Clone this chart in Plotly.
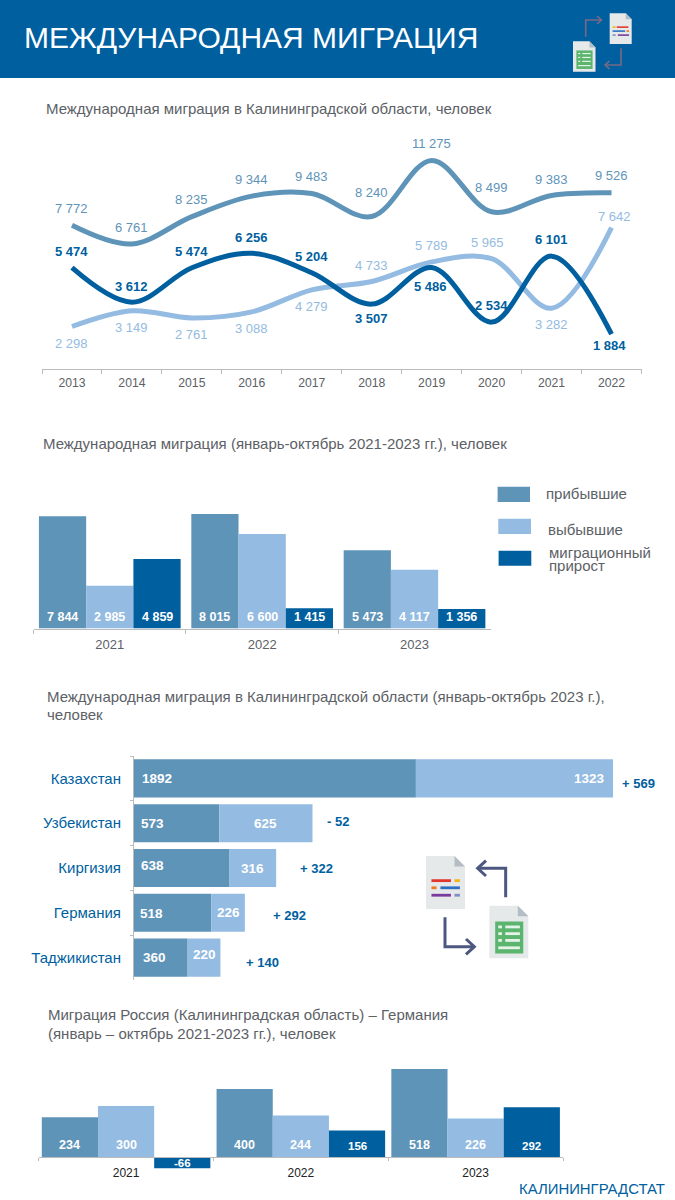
import plotly.graph_objects as go

W, H = 675, 1200
FONT = "Liberation Sans"
MED, LIGHT, DARK = "#5f94b9", "#94bbe1", "#005f9f"
GRAY, AXIS = "#5c6166", "#b9bbbd"

# ---------- data ----------
years = ["2013", "2014", "2015", "2016", "2017", "2018", "2019", "2020", "2021", "2022"]
arrived_all = [7772, 6761, 8235, 9344, 9483, 8240, 11275, 8499, 9383, 9526]
departed_all = [2298, 3149, 2761, 3088, 4279, 4733, 5789, 5965, 3282, 7642]
net_all = [5474, 3612, 5474, 6256, 5204, 3507, 5486, 2534, 6101, 1884]

periods = ["2021", "2022", "2023"]
arrived_jo = [7844, 8015, 5473]
departed_jo = [2985, 6600, 4117]
net_jo = [4859, 1415, 1356]

countries = ["Казахстан", "Узбекистан", "Киргизия", "Германия", "Таджикистан"]
arrived_c = [1892, 573, 638, 518, 360]
departed_c = [1323, 625, 316, 226, 220]
net_c = ["+ 569", "- 52", "+ 322", "+ 292", "+ 140"]

arrived_de = [234, 400, 518]
departed_de = [300, 244, 226]
net_de = [-66, 156, 292]


def fmt(v):
    return f"{v:,}".replace(",", " ")


def px(x):
    return x / W


def py(y):
    return 1 - y / H


fig = go.Figure()
shapes, ann = [], []


def text(x, y, s, size=15, color=GRAY, anchor="left", weight=400):
    ann.append(dict(xref="paper", yref="paper", x=px(x), y=py(y), text=s, showarrow=False,
                    xanchor=anchor, yanchor="middle", align=anchor,
                    font=dict(family=FONT, size=size, color=color, weight=weight)))


def rect(x0, y0, x1, y1, color):
    shapes.append(dict(type="rect", xref="paper", yref="paper", x0=px(x0), x1=px(x1),
                       y0=py(y0), y1=py(y1), fillcolor=color, line=dict(width=0), layer="above"))


def path(pts, fill=None, color=None, width=0, close=False):
    d = "M " + " L ".join(f"{px(a):.5f} {py(b):.5f}" for a, b in pts) + (" Z" if close else "")
    shapes.append(dict(type="path", xref="paper", yref="paper", path=d, layer="above",
                       fillcolor=fill if fill else "rgba(0,0,0,0)",
                       line=dict(color=color if color else "rgba(0,0,0,0)", width=width)))


def doc(x, y, w, h):
    f = w * 0.27
    path([(x, y), (x + w - f, y), (x + w, y + f), (x + w, y + h), (x, y + h)], fill="#e6e9ea", close=True)
    path([(x + w - f, y), (x + w, y + f), (x + w - f, y + f)], fill="#b4bcc4", close=True)


def bar_line(x0, x1, y, color, t):
    path([(x0, y), (x1, y)], color=color, width=t)


def text_doc(x, y, w, h, t, rows):
    doc(x, y, w, h)
    for row_y, items in rows:
        for a, b, c in items:
            bar_line(x + a * w, x + b * w, y + row_y * h, c, t)


def sheet_doc(x, y, w, h, t):
    doc(x, y, w, h)
    gx0, gx1, gy0, gy1 = x + .15 * w, x + .87 * w, y + .30 * h, y + .91 * h
    rect(gx0, gy0, gx1, gy1, "#5cb56f")
    gw, gh = gx1 - gx0, gy1 - gy0
    for f in (.17, .38, .59):
        bar_line(gx0 + .11 * gw, gx0 + .24 * gw, gy0 + f * gh, "#e6f3e8", t)
        bar_line(gx0 + .36 * gw, gx0 + .88 * gw, gy0 + f * gh, "#e6f3e8", t)
    bar_line(gx0 + .11 * gw, gx0 + .88 * gw, gy0 + .82 * gh, "#e6f3e8", t)


def arrow(pts, head, color, width):
    path(pts, color=color, width=width)
    path(head, color=color, width=width)


# ---------- header ----------
rect(0, 0, W, 78, DARK)
text(23.5, 38, "МЕЖДУНАРОДНАЯ МИГРАЦИЯ", size=30, color="#ffffff")
R, Y, O, B, P, S = "#e2372e", "#f0b41c", "#ee7a22", "#2f6fc0", "#7b3a9c", "#7f8fc4"
text_doc(609.7, 13.3, 22, 30.7, 1.6, [
    (.45, [(.13, .27, Y), (.32, .85, R)]),
    (.58, [(.13, .70, B), (.76, .88, O)]),
    (.71, [(.13, .27, S), (.37, .88, P)])])
sheet_doc(573, 41.3, 22.5, 30.4, 1.2)
HA = "#7a6a86"
arrow([(585.7, 36.7), (585.7, 20), (601, 20)], [(597, 16), (601.5, 20), (597, 24)], HA, 1.6)
arrow([(621, 48.3), (621, 65), (605.5, 65)], [(609.5, 61), (605, 65), (609.5, 69)], HA, 1.6)

# ---------- chart 1: lines ----------
Y1_TOP, Y1_BOT = 129, 369
for vals, col in [(arrived_all, MED), (departed_all, LIGHT), (net_all, DARK)]:
    fig.add_trace(go.Scatter(x=years, y=vals, mode="lines", xaxis="x", yaxis="y", hoverinfo="skip",
                             line=dict(color=col, width=5, shape="spline", smoothing=1.0)))

shift_arr = [16.5, 16.2, 16.7, 16.8, 16.9, 23.9, 17.1, 24.5, 16.4, 16.8]
shift_dep = [-16.8, -16.3, -16.4, -16.4, -16.2, 16.1, 16.2, 15.9, -16.7, 10.9]
shift_net = [16, 16, 16, 16, 16.4, -13.9, -18.5, 16.4, 16.4, -10.9]
xs_dep = [0, 0, 0, 0, 0, 0, 0, -4.6, 0, 3]
xs_net = [0, 0, 0, 0, 0, 0, -1.5, 0, 0, -2]
for vals, shifts, xsh, col, w in [
    (arrived_all, shift_arr, [0] * 10, MED, 400),
    (departed_all, shift_dep, xs_dep, LIGHT, 400),
    (net_all, shift_net, xs_net, DARK, 700),
]:
    for i, (v, s, xs) in enumerate(zip(vals, shifts, xsh)):
        ann.append(dict(xref="x", yref="y", x=i, y=v, text=fmt(v), showarrow=False, yshift=s, xshift=xs,
                        xanchor="center", yanchor="middle",
                        font=dict(family=FONT, size=13, color=col, weight=w)))
text(45.5, 109, "Международная миграция в Калининградской области, человек")


# ---------- grouped bars helper ----------
def bars(xa, ya, cats, series, step, shifts, sizes):
    width = step
    for j, (vals, col) in enumerate(series):
        off = (j - 1.5) * step
        fig.add_trace(go.Bar(x=cats, y=vals, xaxis=xa, yaxis=ya, width=width, offset=off,
                             marker=dict(color=col, line=dict(width=0)), hoverinfo="skip"))
        for i, v in enumerate(vals):
            ann.append(dict(xref=xa, yref=ya, x=i + (j - 1) * step, y=0, text=fmt(v), showarrow=False,
                            xanchor="center", yanchor="middle", yshift=shifts[j][i],
                            font=dict(family=FONT, size=sizes[j], color="#ffffff", weight=700)))


# ---------- chart 2: grouped bars ----------
SC2 = 0.0143
Y2_BOT, Y2_TOP = 628.5, 500
bars("x2", "y2", periods, [(arrived_jo, MED), (departed_jo, LIGHT), (net_jo, DARK)], 0.31,
     [[11.5] * 3, [11.5] * 3, [11.5] * 3], [12.5, 12.5, 12.5])
text(43, 443.5, "Международная миграция (январь-октябрь 2021-2023 гг.), человек")
rect(497.6, 486.7, 530, 502, MED)
rect(498.3, 518.7, 531, 534, LIGHT)
rect(498.6, 550.7, 531.3, 565.7, DARK)
text(546, 494, "прибывшие")
text(548, 529.5, "выбывшие")
text(549, 552, "миграционный")
text(549, 565.5, "прирост")

# ---------- chart 3: stacked bars ----------
SC3 = 0.149
X3_L, X3_R = 134, 640
X3_MAX = (X3_R - X3_L) / SC3
fig.add_trace(go.Bar(y=countries, x=arrived_c, orientation="h", xaxis="x3", yaxis="y3", width=0.85,
                     offset=-0.425, marker=dict(color=MED, line=dict(width=0)), hoverinfo="skip"))
fig.add_trace(go.Bar(y=countries, x=departed_c, base=arrived_c, orientation="h", xaxis="x3", yaxis="y3",
                     width=0.85, offset=-0.425, marker=dict(color=LIGHT, line=dict(width=0)), hoverinfo="skip"))
dark_dx, dark_dy = [8, 7, 7, 6, 8.5], [0, 0, 2.5, -1, 0]
light_dy = [0, 0, 0, 0, 3]
net_x, net_dy = [622, 326.5, 299.5, 272.5, 245.5], [-5, 2, 0, -3, -5]
for i, c in enumerate(countries):
    ann.append(dict(xref="x3", yref="y3", x=0, y=c, text=str(arrived_c[i]), showarrow=False, xanchor="left",
                    xshift=dark_dx[i], yshift=dark_dy[i], yanchor="middle",
                    font=dict(family=FONT, size=13.5, color="#ffffff", weight=700)))
    total = arrived_c[i] + departed_c[i]
    if i == 0:
        lx, anc, xs = total, "right", -8
    else:
        lx, anc, xs = arrived_c[i] + departed_c[i] / 2, "center", 0
    ann.append(dict(xref="x3", yref="y3", x=lx, y=c, text=str(departed_c[i]), showarrow=False, xanchor=anc,
                    xshift=xs, yshift=light_dy[i], yanchor="middle",
                    font=dict(family=FONT, size=13.5, color="#ffffff", weight=700)))
    ann.append(dict(xref="paper", yref="y3", x=px(net_x[i]), y=c, text=net_c[i], showarrow=False, xanchor="left",
                    yshift=net_dy[i], yanchor="middle",
                    font=dict(family=FONT, size=13, color=DARK, weight=700)))
text(47, 696, "Международная миграция в Калининградской области (январь-октябрь 2023 г.),")
text(47, 714.5, "человек")

# large icon
IC = "#4d5880"
ix, iy, k = 410, 840, 1 / 3
text_doc(ix + 48 * k, iy + 48 * k, 117 * k, 159 * k, 2.8, [
    (.465, [(.14, .64, R), (.73, .87, Y)]),
    (.60, [(.14, .27, O), (.37, .87, B)]),
    (.74, [(.14, .64, P), (.73, .87, S)])])
sheet_doc(ix + 238 * k, iy + 197 * k, 117 * k, 158 * k, 2.8)
arrow([(ix + 287 * k, iy + 172 * k), (ix + 287 * k, iy + 85 * k), (ix + 205 * k, iy + 85 * k)],
      [(ix + 228 * k, iy + 62 * k), (ix + 203 * k, iy + 85 * k), (ix + 228 * k, iy + 108 * k)], IC, 3)
arrow([(ix + 105 * k, iy + 232 * k), (ix + 105 * k, iy + 320 * k), (ix + 190 * k, iy + 320 * k)],
      [(ix + 168 * k, iy + 297 * k), (ix + 193 * k, iy + 320 * k), (ix + 168 * k, iy + 343 * k)], IC, 3)

# ---------- chart 4: grouped bars with a negative value ----------
SC4 = 0.17
Y4_ZERO, Y4_TOP, Y4_BOT = 1157, 1060, 1175
bars("x4", "y4", periods, [(arrived_de, MED), (departed_de, LIGHT), (net_de, DARK)], 0.3215,
     [[12] * 3, [12] * 3, [-5.7, 11, 11]], [12.5, 12.5, 11.5])
text(48, 1014.7, "Миграция Россия (Калининградская область) – Германия")
text(48, 1033, "(январь – октябрь 2021-2023 гг.), человек")
text(665, 1189, "КАЛИНИНГРАДСТАТ", size=14.9, color=DARK, anchor="right")


def xax(l, r, n, size, color, standoff, ticklen=4):
    return dict(domain=[px(l), px(r)], type="category", range=[-0.5, n - 0.5], tickson="boundaries",
                ticks="outside", ticklen=ticklen, automargin=False, tickangle=0,
                tickwidth=1, tickcolor=AXIS, showline=True, linecolor=AXIS, linewidth=1, showgrid=False,
                zeroline=False, ticklabelstandoff=standoff, fixedrange=True,
                tickfont=dict(family=FONT, size=size, color=color))


def yax(top, bottom, scale, anchor, low=0.0):
    return dict(domain=[py(bottom), py(top)], range=[low, low + (bottom - top) / scale], visible=False,
                showgrid=False, zeroline=False, anchor=anchor, fixedrange=True)


for a in ann:
    a.update(borderwidth=0, borderpad=0)

fig.update_layout(
    width=W, height=H, margin=dict(l=0, r=0, t=0, b=0, autoexpand=False), autosize=False,
    paper_bgcolor="#ffffff", plot_bgcolor="rgba(0,0,0,0)", showlegend=False,
    barmode="group", bargap=0.07, bargroupgap=0,
    xaxis=dict(xax(42, 641.5, 10, 12.2, GRAY, 2), anchor="y"),
    yaxis=yax(Y1_TOP, Y1_BOT, 0.0185, "x"),
    xaxis2=dict(xax(33.6, 490.7, 3, 13, GRAY, 4), anchor="y2"),
    yaxis2=yax(Y2_TOP, Y2_BOT, SC2, "x2"),
    xaxis3=dict(domain=[px(X3_L), px(X3_R)], range=[0, X3_MAX], visible=False, anchor="y3", fixedrange=True),
    yaxis3=dict(domain=[py(980), py(756)], type="category", range=[4.5, -0.5], tickson="boundaries",
                ticks="outside", ticklen=3, tickcolor=AXIS, showline=True, linecolor=AXIS, linewidth=1,
                showgrid=False, anchor="x3", ticklabelstandoff=9, fixedrange=True, automargin=False,
                tickfont=dict(family=FONT, size=15, color=DARK)),
    xaxis4=dict(xax(38.7, 563, 3, 12, "#222222", 5, ticklen=3), anchor="free", position=py(Y4_ZERO)),
    yaxis4=yax(Y4_TOP, Y4_BOT, SC4, "x4", low=-(Y4_BOT - Y4_ZERO) / SC4),
    shapes=shapes, annotations=ann,
)

fig.write_html("out.html", config=dict(displayModeBar=False),
               post_script="document.body.style.margin='0';document.body.style.padding='0';")
